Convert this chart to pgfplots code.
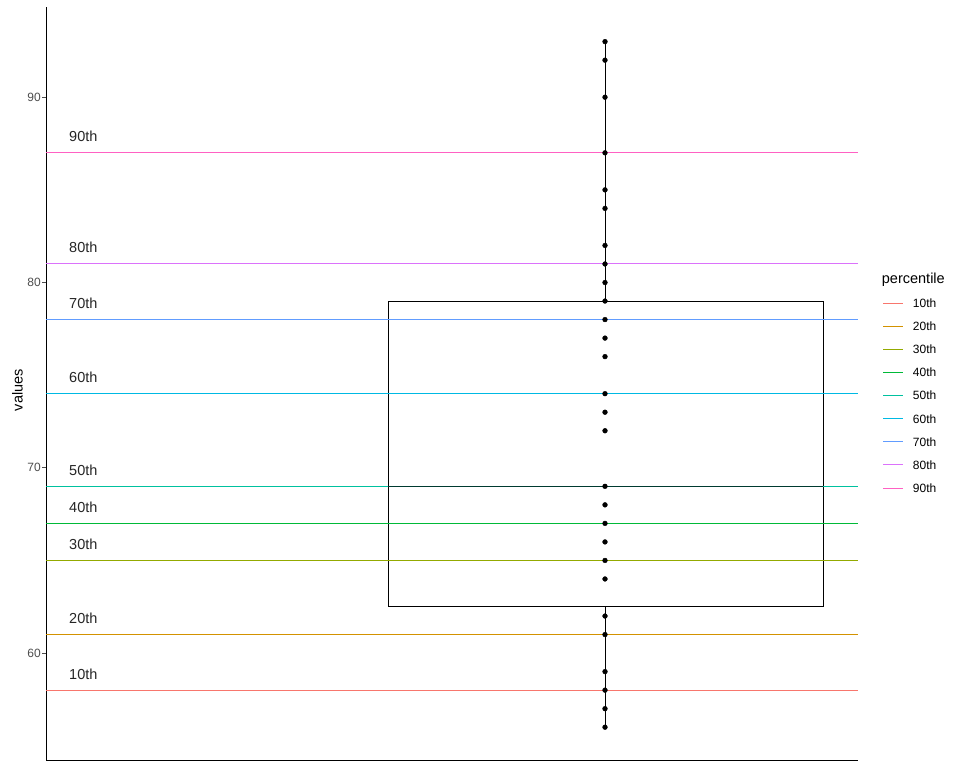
\documentclass[border=0pt]{standalone}
\usepackage{pgfplots}
\pgfplotsset{compat=1.18}
\usepackage{pgfplotstable}
\usepackage{fontspec}
\setmainfont{Liberation Sans}

% ggplot hue palette, 9 levels
\definecolor{p10}{HTML}{F8766D}
\definecolor{p20}{HTML}{D39200}
\definecolor{p30}{HTML}{93AA00}
\definecolor{p40}{HTML}{00BA38}
\definecolor{p50}{HTML}{00C19F}
\definecolor{p60}{HTML}{00B9E3}
\definecolor{p70}{HTML}{619CFF}
\definecolor{p80}{HTML}{DB72FB}
\definecolor{p90}{HTML}{FF61C3}
\definecolor{tickgray}{HTML}{4D4D4D}

\pgfplotstableread{
y
56
57
58
59
61
62
64
65
66
67
68
69
72
73
74
76
77
78
79
80
81
82
84
85
87
90
92
93
}\points

\begin{document}
\begin{tikzpicture}
\path[use as bounding box] (0,0) rectangle (960pt,768pt);
\begin{axis}[
  at={(46pt,8pt)}, anchor=south west,
  scale only axis, width=812pt, height=753pt,
  xmin=46, xmax=858, ymin=54.23, ymax=94.87,
  axis x line=bottom, axis y line=left,
  axis line style={black, line width=0.9pt, -},
  xtick=\empty,
  ytick={60,70,80,90},
  tick align=outside, major tick length=4pt,
  tick style={tickgray, line width=0.8pt},
  /pgf/number format/assume math mode=true,
  yticklabel style={font=\fontsize{12}{14}\selectfont, text=tickgray, inner sep=1pt},
  ylabel={values},
  ylabel style={font=\fontsize{14.5}{16}\selectfont, at={(axis description cs:-0.0351,0.491)}, anchor=center},
  hl/.style={line width=1pt},
]
% box and whiskers
\addplot[black, line width=0.9pt] coordinates {(388,62.5) (823,62.5) (823,79) (388,79) (388,62.5)};
\addplot[black, line width=0.9pt] coordinates {(605,79) (605,93)};
\addplot[black, line width=0.9pt] coordinates {(605,56) (605,62.5)};
% observations
\addplot[only marks, mark=*, mark size=2.4pt, black] table[x expr=605, y=y] {\points};
% percentile lines
\addplot[p10, hl] coordinates {(46,58) (858,58)};
\addplot[p20, hl] coordinates {(46,61) (858,61)};
\addplot[p30, hl] coordinates {(46,65) (858,65)};
\addplot[p40, hl] coordinates {(46,67) (858,67)};
\addplot[p50, hl] coordinates {(46,69) (858,69)};
\addplot[p60, hl] coordinates {(46,74) (858,74)};
\addplot[p70, hl] coordinates {(46,78) (858,78)};
\addplot[p80, hl] coordinates {(46,81) (858,81)};
\addplot[p90, hl] coordinates {(46,87) (858,87)};
% median over the 50th line
\addplot[black!70!p50, line width=1.4pt] coordinates {(388,69) (823,69)};
% labels
\foreach \v/\t in {58/10th,61/20th,65/30th,67/40th,69/50th,74/60th,78/70th,81/80th,87/90th}{
  \edef\temp{\noexpand\node[anchor=base west, inner sep=0pt, font=\noexpand\fontsize{14.5}{16}\noexpand\selectfont, text=black!85] at (axis cs:69,\v+0.6) {\t};}
  \temp
}
\end{axis}
% legend
\node[anchor=base west, inner sep=0pt, font=\fontsize{14.5}{16}\selectfont] at (881.7pt,484pt) {percentile};
\foreach \c/\t [count=\i from 0] in {p10/10th,p20/20th,p30/30th,p40/40th,p50/50th,p60/60th,p70/70th,p80/80th,p90/90th}{
  \pgfmathsetmacro\yy{768-303.3-23.1*\i}
  \draw[\c, line width=1pt] (883pt,\yy pt) -- (903pt,\yy pt);
  \node[anchor=west, inner sep=0pt, font=\fontsize{12}{14}\selectfont] at (912.7pt,\yy pt) {\t};
}
\end{tikzpicture}
\end{document}
